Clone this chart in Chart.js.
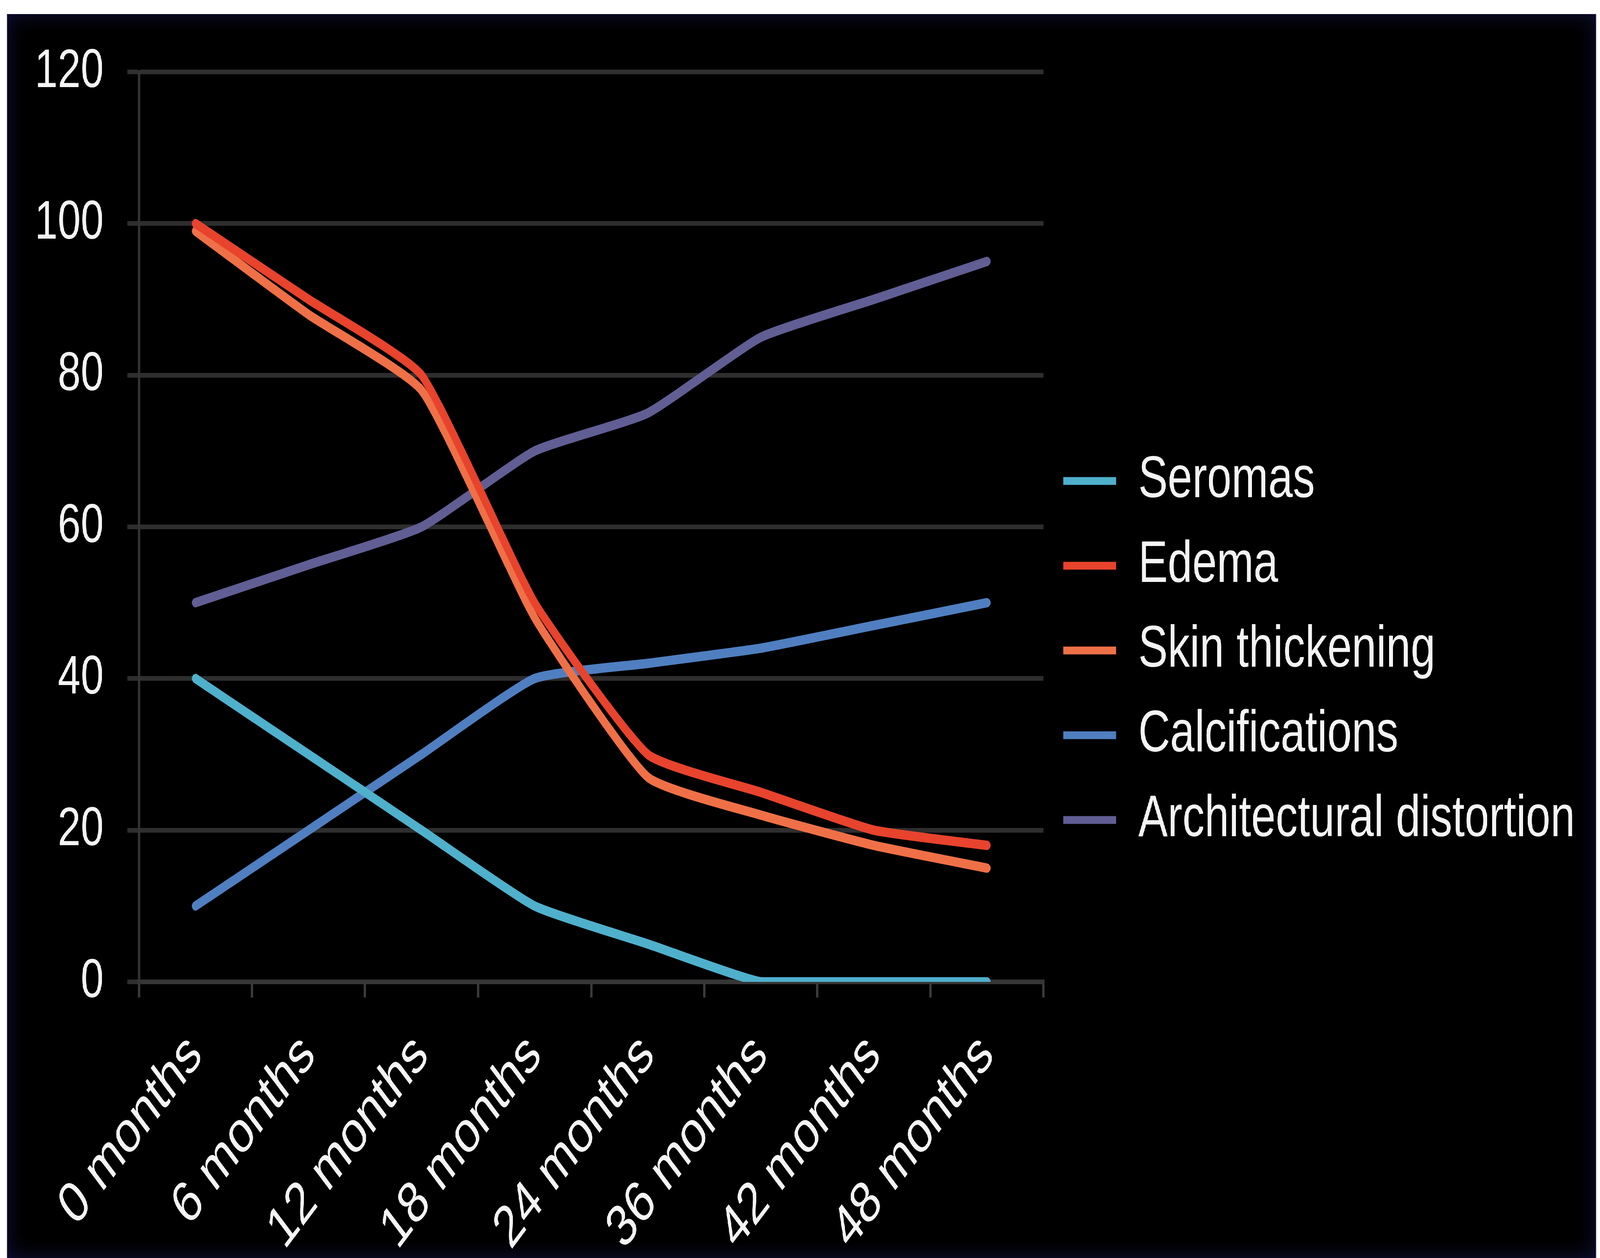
<!DOCTYPE html>
<html>
<head>
<meta charset="utf-8">
<title>Findings over time</title>
<script src="https://cdn.jsdelivr.net/npm/chart.js@4.4.1/dist/chart.umd.min.js"></script>
<style>
  html, body { margin: 0; padding: 0; background: #fff; overflow: hidden; }
  #stage {
    position: absolute; left: 0; top: 0;
    width: 5436px; height: 3221px;
    transform-origin: 0 0;
  }
  #panel {
    position: absolute; left: 24px; top: 36px;
    width: 5399px; height: 3185px;
    background: #000;
    box-shadow: inset 0 0 60px rgba(18, 18, 70, 0.9);
  }
</style>
</head>
<body>
<div id="stage"><div id="panel"><canvas id="findings"></canvas></div></div>
<script>
// data
const months = ['0 months', '6 months', '12 months', '18 months', '24 months', '36 months', '42 months', '48 months'];
const seromas = [40, 30, 20, 10, 5, 0, 0, 0];
const edema = [100, 90, 80, 50, 30, 25, 20, 18];
const skinThickening = [99, 88, 78, 48, 27, 22, 18, 15];
const calcifications = [10, 20, 30, 40, 42, 44, 47, 50];
const architecturalDistortion = [50, 55, 60, 70, 75, 85, 90, 95];
const yMin = 0, yMax = 120, yStep = 20;

const font = '"Liberation Sans", Arial, sans-serif';
const textColor = '#f4f4f4';

// the page is laid out at the reference size, then fitted to the window
const stage = document.getElementById('stage');
stage.style.transform = 'scale(' + (window.innerWidth / 5436) + ',' + (window.innerHeight / 3221) + ')';

function series(label, data, color) {
    return {
        label: label,
        data: data,
        borderColor: color,
        backgroundColor: color,
        borderWidth: 24,
        tension: 0.15,
        pointRadius: 0,
        borderCapStyle: 'round',
        borderJoinStyle: 'round',
        fill: false,
    };
}

const findingsData = {
    labels: months,
    datasets: [
        series('Seromas', seromas, '#4fb0cc'),
        series('Edema', edema, '#e8432d'),
        series('Skin thickening', skinThickening, '#ef7047'),
        series('Calcifications', calcifications, '#4f7fc0'),
        series('Architectural distortion', architecturalDistortion, '#615e94'),
    ]
};

// legend text runs past its capped box and x labels past the axis box: widen their clip areas
const unclipPlugin = {
    id: 'unclip',
    afterLayout(chart) {
        if (chart.legend) {
            chart.legend.right = chart.width;
            chart.legend.width = chart.legend.right - chart.legend.left;
        }
        chart.scales.x.bottom = chart.height;
    }
};

// config
const findingsConfig = {
    type: 'line',
    data: findingsData,
    plugins: [unclipPlugin],
    options: {
        responsive: true,
        maintainAspectRatio: false,
        devicePixelRatio: 1,
        animation: false,
        layout: {
            padding: { top: 148, right: 704, bottom: 74, left: 0 }
        },
        scales: {
            x: {
                offset: true,
                grid: {
                    offset: true,
                    drawOnChartArea: false,
                    drawTicks: true,
                    tickLength: 40,
                    color: '#3a3a3a',
                    lineWidth: 8,
                },
                border: { color: '#363636', width: 12 },
                ticks: {
                    color: textColor,
                    font: { family: font, size: 150 },
                    minRotation: 45,
                    maxRotation: 45,
                    autoSkip: false,
                    padding: 60,
                },
                afterFit: (scale) => {
                    scale.height = 633;
                    scale.paddingLeft = 0;
                    scale.paddingRight = 0;
                },
            },
            y: {
                min: yMin,
                max: yMax,
                grid: {
                    color: '#2e2e2e',
                    lineWidth: 12,
                    tickLength: 40,
                },
                border: { color: '#333333', width: 8 },
                ticks: {
                    stepSize: yStep,
                    color: textColor,
                    font: { family: font, size: 140 },
                    padding: 80,
                },
                afterFit: (scale) => {
                    scale.width = 448;
                    scale.paddingTop = 0;
                    scale.paddingBottom = 0;
                },
            }
        },
        plugins: {
            tooltip: { enabled: false },
            legend: {
                position: 'right',
                labels: {
                    color: textColor,
                    font: { family: font, size: 150 },
                    boxWidth: 180,
                    boxHeight: 20,
                    padding: 67,
                    generateLabels: (chart) => {
                        const items = Chart.defaults.plugins.legend.labels.generateLabels(chart);
                        return items.map(item => Object.assign(item, { lineWidth: 0 }));
                    }
                }
            }
        }
    }
};

// render init block
const findingsChart = new Chart(
    document.getElementById('findings'),
    findingsConfig
);
</script>
</body>
</html>
